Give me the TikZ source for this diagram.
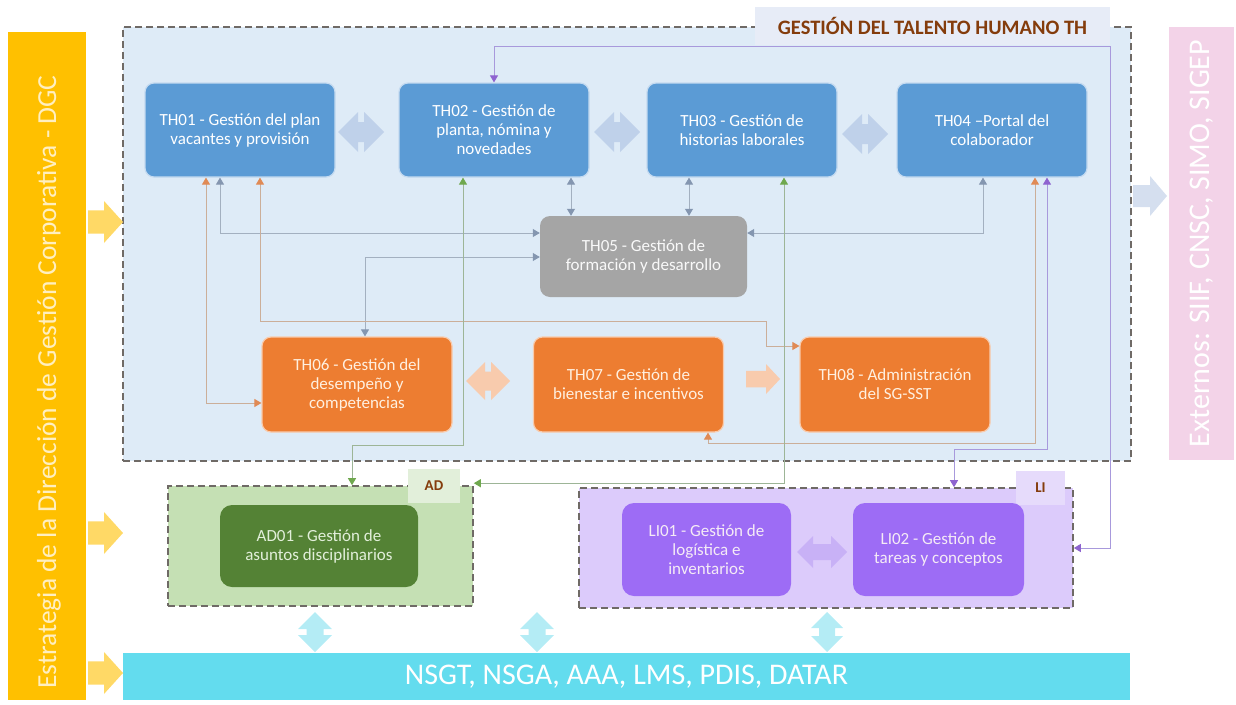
\documentclass[tikz,border=0pt]{standalone}
\usepackage{fontspec}
\setmainfont{Carlito}
\usetikzlibrary{arrows.meta,calc}
\definecolor{thblue}{HTML}{5B9BD5}
\definecolor{thbord}{HTML}{C4DAF0}
\definecolor{thbg}{HTML}{DEEBF7}
\definecolor{thtab}{HTML}{E7ECF7}
\definecolor{brownt}{HTML}{843C0C}
\definecolor{gry}{HTML}{A5A5A5}
\definecolor{org}{HTML}{ED7D31}
\definecolor{orgbord}{HTML}{F8CBAD}
\definecolor{grn}{HTML}{548235}
\definecolor{adbg}{HTML}{C5E0B4}
\definecolor{adtab}{HTML}{E2EFDA}
\definecolor{lib}{HTML}{9D6CF5}
\definecolor{libg}{HTML}{DCCBFB}
\definecolor{litab}{HTML}{E6DBFB}
\definecolor{cyanbar}{HTML}{63DCEE}
\definecolor{cyanarr}{HTML}{B4ECF5}
\definecolor{yel}{HTML}{FFC000}
\definecolor{yeltxt}{HTML}{FFEFC0}
\definecolor{yelarr}{HTML}{FFD966}
\definecolor{pinkbar}{HTML}{F3D3E8}
\definecolor{dashc}{HTML}{6F6A66}
\definecolor{bluearr}{HTML}{BFD1EA}
\definecolor{orgarr}{HTML}{F8CBAD}
\definecolor{purarr}{HTML}{C8B1F6}
\definecolor{extarr}{HTML}{D5DFEF}
\definecolor{lnG}{HTML}{A3B0C0}
\definecolor{hdG}{HTML}{8496B0}
\definecolor{lnO}{HTML}{CBAE99}
\definecolor{hdO}{HTML}{E08A55}
\definecolor{lnGr}{HTML}{9DB597}
\definecolor{hdGr}{HTML}{6FA84E}
\definecolor{lnP}{HTML}{A899DC}
\definecolor{hdP}{HTML}{8E63D0}
% fat arrows: cx cy halflen halfwidth color
\newcommand\fatH[5]{\fill[#5,shift={(#1,#2)}] (-#3,0) -- ({-#3+#4},-#4) -- ({-#3+#4},{-0.5*#4}) -- ({#3-#4},{-0.5*#4}) -- ({#3-#4},-#4) -- (#3,0) -- ({#3-#4},#4) -- ({#3-#4},{0.5*#4}) -- ({-#3+#4},{0.5*#4}) -- ({-#3+#4},#4) -- cycle;}
\newcommand\fatV[5]{\fill[#5,shift={(#1,#2)}] (0,-#3) -- (-#4,{-#3+#4}) -- ({-0.5*#4},{-#3+#4}) -- ({-0.5*#4},{#3-#4}) -- (-#4,{#3-#4}) -- (0,#3) -- (#4,{#3-#4}) -- ({0.5*#4},{#3-#4}) -- ({0.5*#4},{-#3+#4}) -- (#4,{-#3+#4}) -- cycle;}
% cx cy halflen halfwidth headlen color
\newcommand\fatR[6]{\fill[#6,shift={(#1,#2)}] (-#3,{-0.55*#4}) -- ({#3-#5},{-0.55*#4}) -- ({#3-#5},-#4) -- (#3,0) -- ({#3-#5},#4) -- ({#3-#5},{0.55*#4}) -- (-#3,{0.55*#4}) -- cycle;}
\tikzset{
  boxtext/.style={align=center,inner sep=0pt,font=\fontsize{17}{19}\selectfont},
  thbox/.style={boxtext,rectangle,rounded corners=9pt,fill=thblue,draw=thbord,line width=1.2pt,minimum width=190pt,minimum height=94pt,text=white},
  grbox/.style={boxtext,rectangle,rounded corners=10pt,fill=gry,minimum width=207pt,minimum height=81pt,text=white!95!gray},
  orbox/.style={boxtext,rectangle,rounded corners=9pt,fill=org,draw=orgbord,line width=1.2pt,minimum width=190pt,minimum height=95pt,text=white!88!orange},
  adbx/.style={boxtext,rectangle,rounded corners=12pt,fill=grn,minimum width=198pt,minimum height=82pt,text=adtab},
  libx/.style={boxtext,rectangle,rounded corners=12pt,fill=lib,minimum height=93pt,text=white!92!violet},
  cont/.style={rectangle,draw=dashc,line width=1.6pt,dash pattern=on 7pt off 4pt},
  tabtxt/.style={text=brownt,font=\bfseries\fontsize{15}{17}\selectfont},
  conG/.style={draw=lnG,line width=1pt,arrows={Triangle[width=8pt,length=7pt,color=hdG]-Triangle[width=8pt,length=7pt,color=hdG]}},
  conO/.style={draw=lnO,line width=1pt,arrows={Triangle[width=8pt,length=7pt,color=hdO]-Triangle[width=8pt,length=7pt,color=hdO]}},
  conGr/.style={draw=lnGr,line width=1pt,arrows={Triangle[width=8pt,length=7pt,color=hdGr]-Triangle[width=8pt,length=7pt,color=hdGr]}},
  conP/.style={draw=lnP,line width=1pt,arrows={Triangle[width=8pt,length=7pt,color=hdP]-Triangle[width=8pt,length=7pt,color=hdP]}},
}
\begin{document}
\begin{tikzpicture}[x=1pt,y=-1pt]
\useasboundingbox (0,0) rectangle (1236,704);
% containers
\node[cont,fill=thbg,minimum width=1008pt,minimum height=434pt] (THbox) at (627,244) {};
\node[fill=thtab,minimum width=355pt,minimum height=38pt,text=brownt,font=\bfseries\fontsize{20.5}{22}\selectfont] (THtab) at (932.5,26) {GESTIÓN DEL TALENTO HUMANO TH};
\node[cont,fill=adbg,minimum width=305pt,minimum height=120pt] (ADbox) at (320.5,546) {};
\node[cont,fill=libg,minimum width=494pt,minimum height=120pt] (LIbox) at (826,548) {};
\node[fill=adtab,minimum width=52pt,minimum height=34pt,tabtxt] (ADtab) at (434,486) {AD};
\node[fill=litab,minimum width=49pt,minimum height=34pt,tabtxt] (LItab) at (1040.5,488) {LI};
% side bars
\node[fill=yel,minimum width=78pt,minimum height=668pt] (DGC) at (47,366) {};
\node[rotate=90,text=yeltxt,font=\fontsize{27.5}{30}\selectfont] (DGCtxt) at (49,382) {Estrategia de la Dirección de Gestión Corporativa - DGC};
\node[fill=pinkbar,rotate=90,minimum width=433pt,minimum height=65pt,text=white,font=\fontsize{30}{32}\selectfont] (EXT) at (1201.5,243.5) {Externos: SIIF, CNSC, SIMO, SIGEP};
\node[fill=cyanbar,minimum width=1007pt,minimum height=47pt,text=white,font=\fontsize{30}{32}\selectfont] (SYS) at (626.5,676.5) {NSGT, NSGA, AAA, LMS, PDIS, DATAR};
% process boxes
\node[thbox] (TH01) at (240,130) {TH01 - Gestión del plan\\vacantes y provisión};
\node[thbox] (TH02) at (494,130) {TH02 - Gestión de\\planta, nómina y\\novedades};
\node[thbox] (TH03) at (742,130) {TH03 - Gestión de\\historias laborales};
\node[thbox] (TH04) at (992,130) {TH04 –Portal del\\colaborador};
\node[grbox] (TH05) at (643.5,256.5) {TH05 - Gestión de\\formación y desarrollo};
\node[orbox] (TH06) at (357,384.5) {TH06 - Gestión del\\desempeño y\\competencias};
\node[orbox] (TH07) at (628.5,384.5) {TH07 - Gestión de\\bienestar e incentivos};
\node[orbox] (TH08) at (895,384.5) {TH08 - Administración\\del SG-SST};
\node[adbx] (AD01) at (319,546) {AD01 - Gestión de\\asuntos disciplinarios};
\node[libx,minimum width=169pt] (LI01) at (706.5,549.5) {LI01 - Gestión de\\logística e\\inventarios};
\node[libx,minimum width=171pt] (LI02) at (938.5,549.5) {LI02 - Gestión de\\tareas y conceptos};
% connectors
\draw[conG] ([xshift=-20pt]TH01.south) |- ([yshift=23.5pt]TH05.west);
\draw[conG] ([yshift=-0.5pt]TH05.west) -| ([xshift=8pt]TH06.north);
\draw[conG] ([xshift=77pt]TH02.south) -- ([xshift=-72.5pt]TH05.north);
\draw[conG] ([xshift=-53pt]TH03.south) -- ([xshift=45.5pt]TH05.north);
\draw[conG] ([xshift=-9pt]TH04.south) |- ([yshift=23.5pt]TH05.east);
\draw[conO] ([xshift=-34pt]TH01.south) |- ([yshift=-18.5pt]TH06.west);
\draw[conO] ([xshift=20pt]TH01.south) |- (766,321) |- ([yshift=38.5pt]TH08.west);
\draw[conO] ([xshift=79.5pt]TH07.south) -- ++(0,11) -| ([xshift=43pt]TH04.south);
\draw[conP] ([xshift=55pt]TH04.south) -- ++(0,272) -| ([xshift=128pt]LIbox.north);
\draw[conP] (TH02.north) -- ++(0,-36) -| ($(LIbox.east)+(37,0)$) -- (LIbox.east);
\draw[conGr] ([xshift=-31pt]TH02.south) -- ++(0,268) -| ([xshift=31.5pt]ADbox.north);
\draw[conGr] ([xshift=42pt]TH03.south) |- ([yshift=2pt]ADbox.north east);
% fat arrows
\fatH{361}{132}{23}{20}{bluearr}
\fatH{617}{132}{23}{20}{bluearr}
\fatH{865}{134}{23}{20}{bluearr}
\fatH{488}{381}{22}{19}{orgarr}
\fatR{763}{379}{17}{15}{14}{orgarr}
\fatH{822}{552}{25}{16}{purarr}
\fatV{315}{632}{20}{17}{cyanarr}
\fatV{537}{632}{20}{17}{cyanarr}
\fatV{827}{632}{20}{16}{cyanarr}
\fatR{105.5}{222}{17.5}{21}{19}{yelarr}
\fatR{105.5}{533}{17.5}{21}{19}{yelarr}
\fatR{105.5}{673}{17.5}{21}{19}{yelarr}
\fatR{1150}{196}{17}{20}{17}{extarr}
\end{tikzpicture}
\end{document}
